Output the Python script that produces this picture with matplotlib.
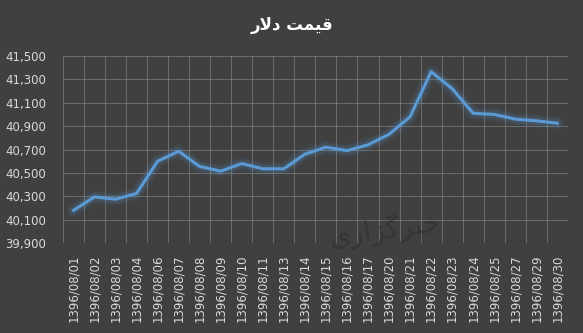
import numpy as np
import matplotlib
matplotlib.use('Agg')
import matplotlib.pyplot as plt

# dates (1396/08/..) and dollar price
days = ['01', '02', '03', '04', '06', '07', '08', '09', '10', '11', '13', '14',
        '15', '16', '17', '20', '21', '22', '23', '24', '25', '27', '29', '30']
labels = ['1396/08/' + d for d in days]
price = [40180, 40295, 40275, 40325, 40600, 40685, 40555, 40515, 40580, 40535, 40535, 40660,
         40720, 40690, 40740, 40830, 40980, 41365, 41220, 41010, 41000, 40960, 40945, 40925]
yticks = list(range(39900, 41501, 200))

# title "قیمت دلار" written in presentation forms, visual order
title = '\uFEAD\uFEFB\uFEA9 \uFE96\uFEE4\uFEF4\uFED7'
# watermark "خبرگزاری"
mark = '\uFEEF\uFEAD\uFE8D\uFEB0\uFB94\uFEAE\uFE92\uFEA7'

bg = '#404040'
fig = plt.figure(figsize=(5.83, 3.33), dpi=100, facecolor=bg)
ax = fig.add_axes([0.108, 0.270, 0.866, 0.562], facecolor=bg)

x = np.arange(len(price))
# glow
for lw, a in [(10, 0.05), (7.5, 0.08), (5.5, 0.12)]:
    ax.plot(x, price, color='#5b9bd5', linewidth=lw, alpha=a, solid_capstyle='round', zorder=3)
ax.plot(x, price, color='#5b9bd5', linewidth=2.2, zorder=4)

ax.set_xlim(-0.5, len(price) - 0.5)
ax.set_ylim(39900, 41500)
ax.set_yticks(yticks)
ax.set_yticklabels([f'{v:,}' for v in yticks])
ax.set_xticks(x)
ax.set_xticklabels(labels, rotation=90)
ax.set_xticks(np.arange(-0.5, len(price), 1), minor=True)

ax.grid(True, axis='y', color='#8a8a8a', linewidth=0.7, alpha=0.6)
ax.grid(True, axis='x', which='minor', color='#8a8a8a', linewidth=0.7, alpha=0.6)
ax.grid(False, axis='x', which='major')
ax.tick_params(axis='both', which='both', length=0, colors='#d9d9d9', labelsize=8.5)
ax.tick_params(axis='y', pad=12)
ax.tick_params(axis='x', pad=8)
for s in ax.spines.values():
    s.set_visible(False)

fig.text(0.5, 0.925, title, ha='center', va='center', color='white',
         fontsize=12, fontweight='bold', family='DejaVu Sans')
fig.text(0.66, 0.31, mark, ha='center', va='center', color='#2e2e2e',
         fontsize=20, rotation=8, family='DejaVu Sans', alpha=0.6, zorder=0)

fig.savefig('out.png', dpi=100, facecolor=bg)
